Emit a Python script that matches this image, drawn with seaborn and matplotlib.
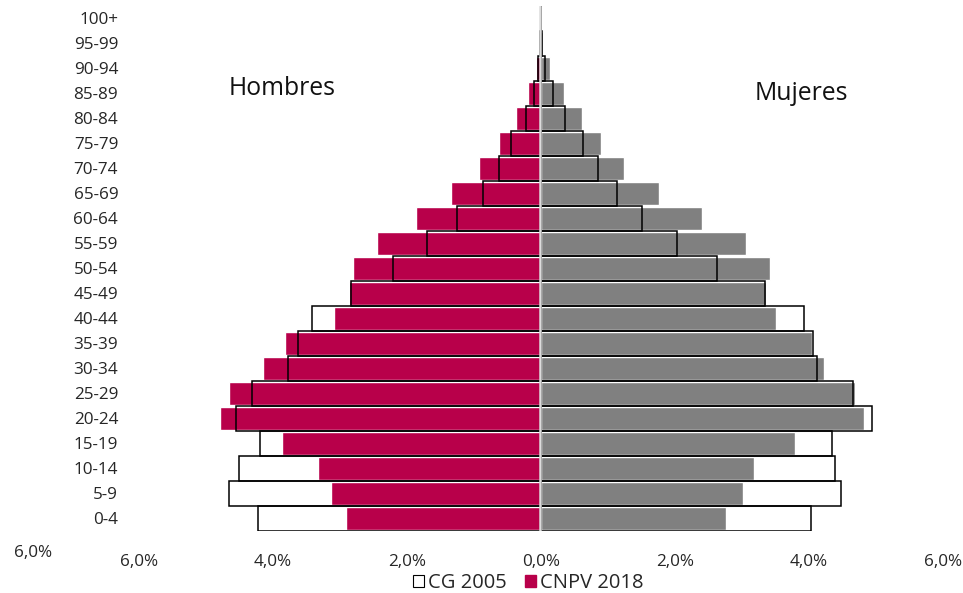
import numpy as np
import matplotlib
matplotlib.use('Agg')
import matplotlib.pyplot as plt
import seaborn as sns
from matplotlib.patches import Patch

# age groups, bottom to top
ages = ['0-4', '5-9', '10-14', '15-19', '20-24', '25-29', '30-34', '35-39', '40-44',
        '45-49', '50-54', '55-59', '60-64', '65-69', '70-74', '75-79', '80-84',
        '85-89', '90-94', '95-99', '100+']

# % of total population
men_2018 = [2.91, 3.13, 3.33, 3.87, 4.79, 4.66, 4.15, 3.82, 3.09, 2.87, 2.81,
            2.45, 1.87, 1.34, 0.93, 0.63, 0.37, 0.19, 0.07, 0.02, 0.005]
men_2005 = [4.22, 4.66, 4.51, 4.19, 4.55, 4.31, 3.78, 3.63, 3.42, 2.84, 2.21,
            1.70, 1.25, 0.87, 0.63, 0.45, 0.22, 0.10, 0.04, 0.01, 0.003]
women_2018 = [2.76, 3.01, 3.18, 3.79, 4.82, 4.69, 4.22, 4.04, 3.51, 3.36, 3.42,
              3.06, 2.40, 1.76, 1.24, 0.90, 0.61, 0.34, 0.13, 0.03, 0.005]
women_2005 = [4.03, 4.48, 4.39, 4.34, 4.94, 4.66, 4.12, 4.06, 3.93, 3.34, 2.63,
              2.03, 1.51, 1.13, 0.85, 0.63, 0.36, 0.18, 0.06, 0.01, 0.003]

xticks = [-6, -4, -2, 0, 2, 4, 6]

red = '#b8004a'
grey = '#808080'

sns.set_theme(style='white')
plt.rcParams['font.family'] = ['Open Sans', 'DejaVu Sans']

fig = plt.figure(figsize=(9.63, 5.93), dpi=100)
ax = fig.add_axes([139/963, 62.5/593, (943-139)/963, 525/593])

order = ages[::-1]
sns.barplot(x=-np.array(men_2018), y=ages, order=order, color=red, saturation=1,
            width=0.92, ax=ax, orient='h')
sns.barplot(x=women_2018, y=ages, order=order, color=grey, saturation=1,
            width=0.92, ax=ax, orient='h')
sns.barplot(x=-np.array(men_2005), y=ages, order=order, color='black', fill=False,
            linewidth=1.1, width=1.0, ax=ax, orient='h')
sns.barplot(x=women_2005, y=ages, order=order, color='black', fill=False,
            linewidth=1.1, width=1.0, ax=ax, orient='h')
ax.axvline(-0.02, color='#dcdcdc', lw=1.8, zorder=5)

ax.set_xlim(-6, 6)
ax.set_ylim(20.5, -0.5)
ax.set_xticks(xticks)
ax.set_xticklabels([f'{abs(v):.1f}%'.replace('.', ',') for v in xticks])
ax.set_xlabel('')
ax.set_ylabel('')
ax.tick_params(axis='x', length=0, pad=17, labelsize=12.3, colors='#262626')
ax.tick_params(axis='y', length=0, pad=15, labelsize=12.3, colors='#262626')
sns.despine(ax=ax, left=True, bottom=True)

ax.text(282/963, 1 - 88/593, 'Hombres', transform=fig.transFigure, ha='center',
        va='center', fontsize=17.8, color='#111111')
ax.text(801/963, 1 - 94/593, 'Mujeres', transform=fig.transFigure, ha='center',
        va='center', fontsize=17.8, color='#111111')
fig.text(33/963, 1 - 553/593, '6,0%', ha='center', va='center', fontsize=12.3,
         color='#262626')

handles = [Patch(facecolor='white', edgecolor='black', linewidth=0.8, label='CG 2005'),
           Patch(facecolor=red, edgecolor=red, label='CNPV 2018')]
fig.legend(handles=handles, loc='center', bbox_to_anchor=(528/963, 1 - 583/593),
           ncol=2, frameon=False, fontsize=14.5, handlelength=0.55, handleheight=0.55,
           handletextpad=0.2, columnspacing=0.9, labelcolor='#262626')

fig.savefig('out.png', dpi=100)
